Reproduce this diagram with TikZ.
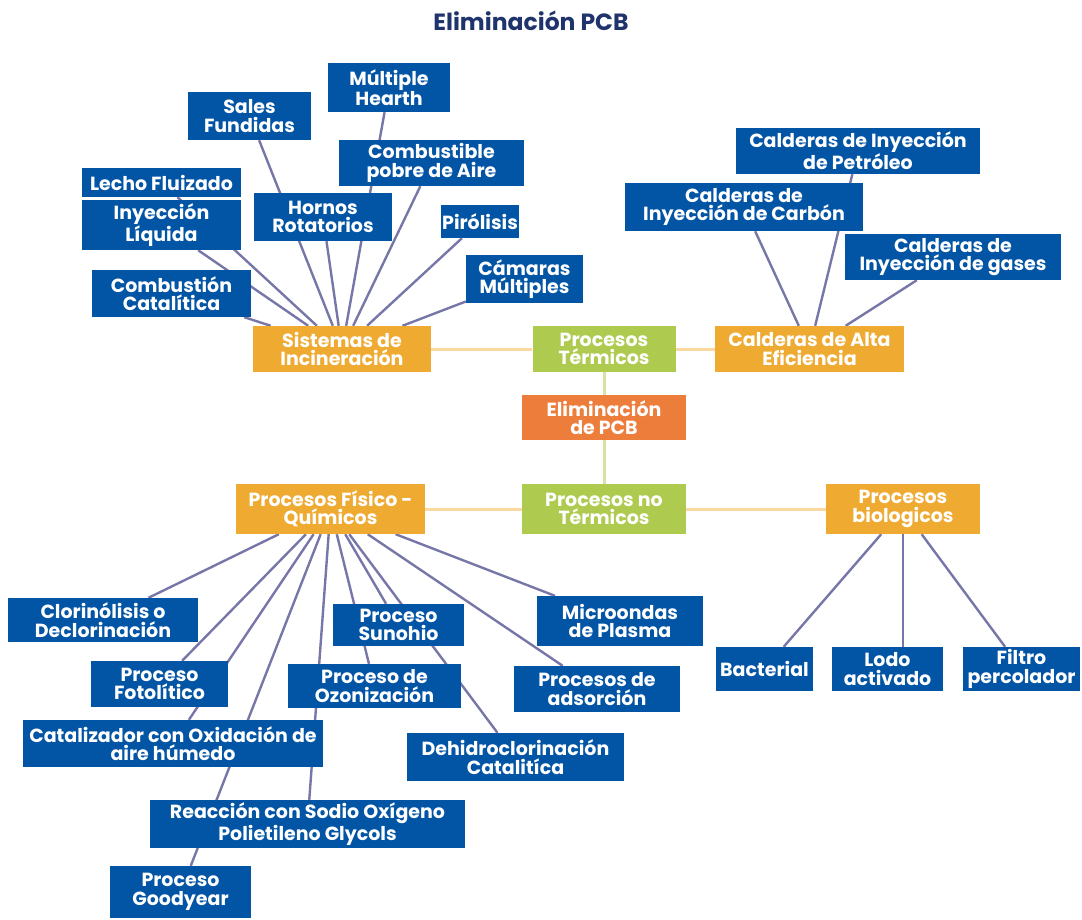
\documentclass[tikz,border=0pt]{standalone}
\usepackage{fontspec}
\setmainfont{Poppins}
\usepackage{tikz}
\usetikzlibrary{backgrounds}
\definecolor{boxblue}{RGB}{2,84,165}
\definecolor{grporange}{RGB}{239,170,50}
\definecolor{catgreen}{RGB}{174,203,79}
\definecolor{rootorange}{RGB}{237,125,59}
\definecolor{lnpurple}{RGB}{118,119,168}
\definecolor{lnorange}{RGB}{250,216,160}
\definecolor{lngreen}{RGB}{213,228,160}
\definecolor{titlenavy}{RGB}{31,52,108}
\tikzset{
  box/.style ={rectangle, align=center, inner sep=1pt, text=white, font=\bfseries\fontsize{19}{18.5}\selectfont},
  leaf/.style={box, fill=boxblue},
  grp/.style ={box, fill=grporange},
  cat/.style ={box, fill=catgreen},
  root/.style={box, fill=rootorange},
  wh/.style 2 args={minimum width=#1pt, minimum height=#2pt},
  ln/.style  ={draw=lnpurple, line width=2.4pt},
  lo/.style  ={draw=lnorange, line width=3pt},
  lg/.style  ={draw=lngreen, line width=3pt},
}

\begin{document}
\begin{tikzpicture}[x=1pt, y=-1pt]
  \useasboundingbox (0,0) rectangle (1082,920);
  \node[text=titlenavy, font=\bfseries\fontsize{23.5}{24}\selectfont] (title) at (531,21) {Eliminación PCB};

  % centre
  \node[root, wh={164}{45}] (elim) at (604,417.5) {Eliminación\\de PCB};
  \node[cat, wh={143}{46}] (term) at (604,349) {Procesos\\Térmicos};
  \node[cat, wh={164}{50}] (noterm) at (604,509) {Procesos no\\Térmicos};

  % procesos termicos
  \node[grp, wh={178}{46}] (incin) at (342,349) {Sistemas de\\Incineración};
  \node[grp, wh={189}{46}] (calta) at (809.5,349) {Calderas de Alta\\Eficiencia};

  \node[leaf, wh={122}{49}] (hearth) at (389,87.5) {Múltiple\\Hearth};
  \node[leaf, wh={123}{48}] (sales) at (249.5,116) {Sales\\Fundidas};
  \node[leaf, wh={185}{46}] (pobre) at (431.5,163) {Combustible\\pobre de Aire};
  \node[leaf, wh={159}{29}] (lecho) at (161.5,182.5) {Lecho Fluizado};
  \node[leaf, wh={159}{50}] (liq) at (161.5,225) {Inyección\\Líquida};
  \node[leaf, wh={138}{48}] (hornos) at (323,217) {Hornos\\Rotatorios};
  \node[leaf, wh={76}{33}] (piro) at (480,221.5) {Pirólisis};
  \node[leaf, wh={117}{48}] (camaras) at (524.5,279) {Cámaras\\Múltiples};
  \node[leaf, wh={159}{47}] (ccat) at (171.5,293.5) {Combustión\\Catalítica};

  \node[leaf, wh={244}{46}] (petro) at (858,151) {Calderas de Inyección\\de Petróleo};
  \node[leaf, wh={238}{48}] (carbon) at (744,207) {Calderas de\\Inyección de Carbón};
  \node[leaf, wh={216}{46}] (gases) at (953,257) {Calderas de\\Inyección de gases};

  % procesos no termicos
  \node[grp, wh={189}{50}] (fq) at (330.5,509) {Procesos Físico -\\Químicos};
  \node[grp, wh={154}{50}] (bio) at (903,509) {Procesos\\biologicos};

  \node[leaf, wh={190}{44}] (cloro) at (103,620) {Clorinólisis o\\Declorinación};
  \node[leaf, wh={131}{42}] (sunohio) at (398.5,625) {Proceso\\Sunohio};
  \node[leaf, wh={166}{50}] (micro) at (620,621) {Microondas\\de Plasma};
  \node[leaf, wh={137}{46}] (foto) at (159.5,684) {Proceso\\Fotolítico};
  \node[leaf, wh={173}{44}] (ozono) at (374.5,686) {Proceso de\\Ozonización};
  \node[leaf, wh={166}{46}] (adsor) at (597,689) {Procesos de\\adsorción};
  \node[leaf, wh={300}{47}] (oxid) at (173,743.5) {Catalizador con Oxidación de\\aire húmedo};
  \node[leaf, wh={217}{48}] (dehidro) at (515.5,757) {Dehidroclorinación\\Catalitíca};
  \node[leaf, wh={315}{48}] (sodio) at (307.5,824) {Reacción con Sodio Oxígeno\\Polietileno Glycols};
  \node[leaf, wh={141}{52}] (goodyear) at (180.5,892) {Proceso\\Goodyear};

  \node[leaf, wh={97}{44}] (bact) at (764.5,669) {Bacterial};
  \node[leaf, wh={111}{44}] (lodo) at (887.5,669) {Lodo\\activado};
  \node[leaf, wh={117}{44}] (filtro) at (1021.5,669) {Filtro\\percolador};

  \begin{pgfonlayer}{background}
    \draw[lo] (incin) -- (term);
    \draw[lo] (term) -- (calta);
    \draw[lg] (term) -- (elim);
    \draw[lg] (elim) -- (noterm);
    \draw[lo] (noterm) -- (fq);
    \draw[lo] (noterm) -- (bio);
    \foreach \n in {hearth,sales,pobre,lecho,liq,hornos,piro,camaras,ccat}
      \draw[ln] (incin) -- (\n);
    \foreach \n in {petro,carbon,gases}
      \draw[ln] (calta) -- (\n);
    \foreach \n in {cloro,sunohio,micro,foto,ozono,adsor,oxid,dehidro,sodio,goodyear}
      \draw[ln] (fq) -- (\n);
    \draw[ln] (bio) -- (bact);
    \draw[ln] (bio) -- (bio |- lodo.north);
    \draw[ln] (bio) -- (filtro);
  \end{pgfonlayer}
\end{tikzpicture}
\end{document}
